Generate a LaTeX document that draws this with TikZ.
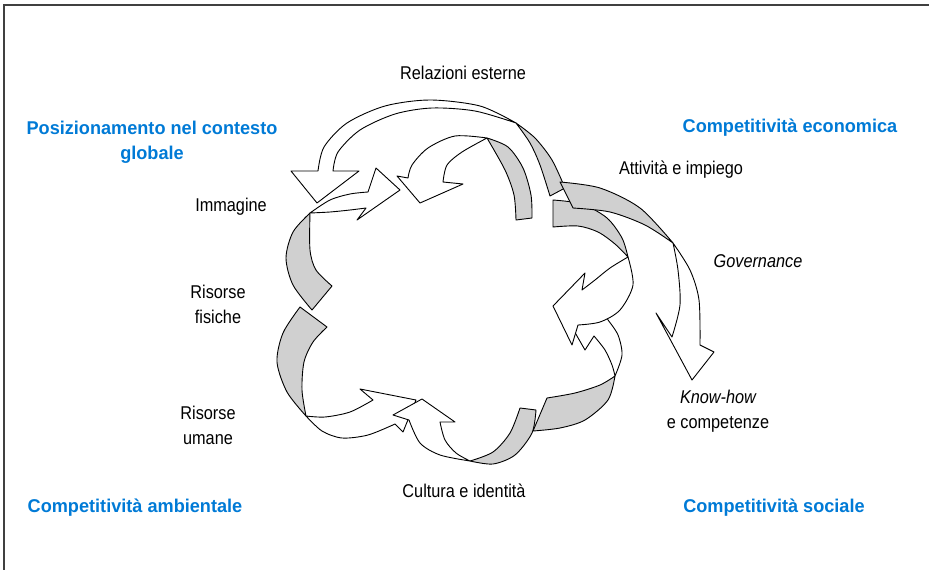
\documentclass[tikz,border=0pt]{standalone}
\usepackage{fontspec}
\setmainfont{Liberation Sans}
\newfontfamily\labfont{Liberation Sans}[FakeStretch=0.88]
\newfontfamily\compfont{Liberation Sans}[FakeStretch=0.98]
\usepackage{tikz}
\definecolor{compblue}{RGB}{0,122,214}
\definecolor{bandgray}{RGB}{208,208,208}
\tikzset{
  whiteband/.style={draw=black, line width=0.9pt, fill=white, line join=round},
  grayband/.style={whiteband, fill=bandgray},
  lbl/.style={font=\labfont\fontsize{18.5}{25}\selectfont, align=center, inner sep=0pt},
  comp/.style={font=\compfont\fontsize{18.5}{25}\selectfont\bfseries, text=compblue, align=center, inner sep=0pt}
}
\begin{document}
\begin{tikzpicture}[x=1pt,y=-1pt]
\useasboundingbox (0,0) rectangle (929,570);
\draw[line width=1.6pt, black!75] (4,570) -- (4,5) -- (929,5);

% lower left: risorse umane
\filldraw[grayband] plot[smooth] coordinates {(300,307) (283,333) (277,362) (287,392) (306,416)}
  -- plot[smooth] coordinates {(306,416) (302,390) (304,362) (313,342) (327,327)} -- cycle;
\filldraw[whiteband] plot[smooth] coordinates {(306,416) (322,431) (342,438) (368,435) (395,424)}
  -- (403,432) -- (416,400) -- (360,389) -- plot[smooth] coordinates {(373,400) (350,412) (325,417) (306,416)} -- cycle;

% upper left: immagine
\filldraw[grayband] plot[smooth] coordinates {(310,213) (293,232) (286,258) (293,285) (312,310)}
  -- plot[smooth] coordinates {(332,286) (316,270) (310,250) (310,213)} -- cycle;
\filldraw[whiteband] plot[smooth] coordinates {(310,213) (330,200) (350,194) (368,192)}
  -- (376,168) -- (400,190) -- (357,220) -- plot[smooth] coordinates {(366,208) (350,210) (330,212) (310,213)} -- cycle;

% inner top arch
\filldraw[grayband] plot[smooth] coordinates {(487,138) (508,147) (523,168) (531,195) (532,218)}
  -- plot[smooth] coordinates {(516,220) (514,195) (505,170) (487,138)} -- cycle;
\filldraw[whiteband] plot[smooth] coordinates {(487,138) (455,136) (428,148) (412,165) (408,178)}
  -- (397,176) -- (420,203) -- (463,184) -- plot[smooth] coordinates {(443,182) (447,165) (462,152) (487,138)} -- cycle;

% outer top arch: relazioni esterne
\filldraw[grayband] plot[smooth] coordinates {(516,123) (535,138) (552,160) (565,188)}
  -- plot[smooth] coordinates {(550,196) (540,165) (530,143) (516,123)} -- cycle;
\filldraw[whiteband] plot[smooth] coordinates {(516,123) (480,106) (430,100) (385,106) (347,123) (324,147) (318,171)}
  -- (291,171) -- (317,203) -- (359,171) -- plot[smooth] coordinates {(333,171) (338,152) (360,130) (395,114) (432,108) (475,111) (516,123)} -- cycle;

% bottom: cultura
\filldraw[whiteband] plot[smooth] coordinates {(470,461) (440,455) (420,443) (409,420)}
  -- (393,415) -- (422,399) -- (455,422) -- plot[smooth] coordinates {(440,422) (445,440) (456,453) (470,461)} -- cycle;
\filldraw[grayband] plot[smooth] coordinates {(470,461) (493,452) (510,433) (520,408)}
  -- plot[smooth] coordinates {(536,410) (532,433) (515,455) (493,464) (470,461)} -- cycle;

% lower right
\filldraw[grayband] plot[smooth] coordinates {(547,398) (575,393) (600,385) (615,376)}
  -- plot[smooth] coordinates {(615,376) (608,400) (585,420) (560,428) (533,431)} -- cycle;
\filldraw[whiteband] plot[smooth] coordinates {(615,376) (622,355) (618,335) (608,320)}
  -- (598,300) -- (565,315) -- (585,350) -- plot[smooth] coordinates {(594,336) (605,350) (612,365) (615,376)} -- cycle;

% right lobe
\filldraw[grayband] plot[smooth] coordinates {(553,200) (582,204) (607,218) (622,238) (628,257)}
  -- plot[smooth] coordinates {(628,257) (615,244) (598,232) (578,226) (553,227)} -- cycle;
\filldraw[whiteband] plot[smooth] coordinates {(628,257) (610,268) (595,280) (582,290)}
  -- (585,273) -- (553,306) -- (572,345) -- plot[smooth] coordinates {(578,325) (600,322) (620,310) (633,285) (628,257)} -- cycle;

% outer right: attivita -> know-how
\filldraw[grayband] plot[smooth] coordinates {(560,182) (600,188) (640,208) (673,243)}
  -- plot[smooth] coordinates {(673,243) (645,225) (610,212) (573,208)} -- cycle;
\filldraw[whiteband] plot[smooth] coordinates {(673,243) (690,270) (699,300) (700,345)}
  -- (714,352) -- (692,380) -- (656,313) -- plot[smooth] coordinates {(672,337) (680,305) (678,270) (673,243)} -- cycle;

% labels
\node[lbl] (rel) at (463,73) {Relazioni esterne};
\node[lbl] (att) at (681,170) {Attività e impiego};
\node[lbl] (gov) at (758,261) {\itshape Governance};
\node[lbl] (know) at (718,411) {\itshape Know-how\\e competenze};
\node[lbl] (cult) at (464,491) {Cultura e identità};
\node[lbl] (ume) at (208,425) {Risorse\\umane};
\node[lbl] (fis) at (218,304) {Risorse\\fisiche};
\node[lbl] (img) at (231,207) {Immagine};

\node[comp] (glob) at (152,142) {Posizionamento nel contesto\\globale};
\node[comp] (eco) at (790,128) {Competitività economica};
\node[comp] (amb) at (135,508) {Competitività ambientale};
\node[comp] (soc) at (774,508) {Competitività sociale};
\end{tikzpicture}
\end{document}
